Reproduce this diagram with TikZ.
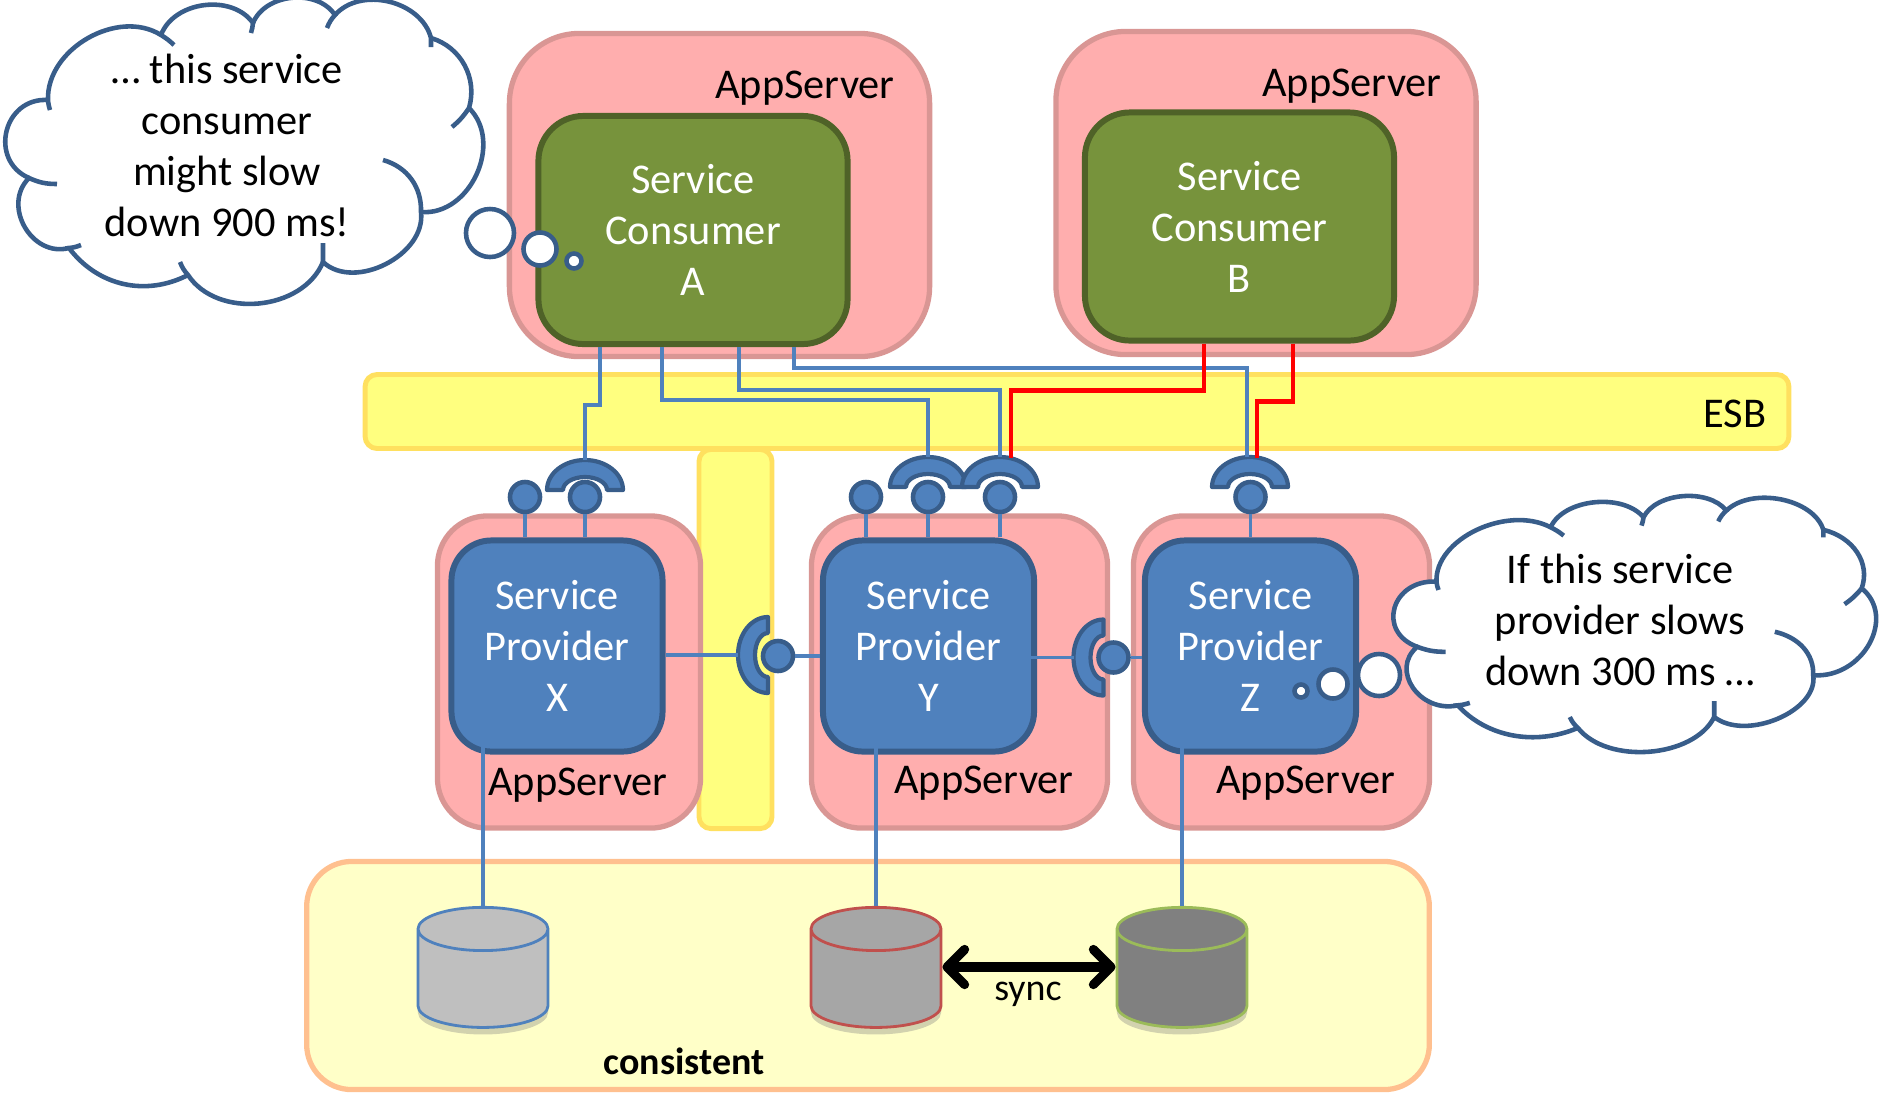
\documentclass[tikz,border=0pt]{standalone}
\usepackage{fontspec}
\setmainfont{Carlito}
\usepackage{xcolor}
\usepackage{tikz}
\usetikzlibrary{arrows.meta, positioning, shapes.geometric, shadows}

\definecolor{pinkfill}{HTML}{FFAEAE}
\definecolor{pinkline}{HTML}{D99694}
\definecolor{olivefill}{HTML}{77933C}
\definecolor{oliveline}{HTML}{4F6228}
\definecolor{bluefill}{HTML}{4F81BD}
\definecolor{blueline}{HTML}{385D8A}
\definecolor{busfill}{HTML}{FFFF7F}
\definecolor{busline}{HTML}{FFE05F}
\definecolor{storefill}{HTML}{FFFFC8}
\definecolor{storeline}{HTML}{FFC08F}
\definecolor{dbredline}{HTML}{C0504D}
\definecolor{dbgreenline}{HTML}{9BBB59}

\tikzset{
	label text/.style = {font=\fontsize{12.05}{14.5}\selectfont, align=center, inner sep=0pt},
	appserver/.style = {draw=pinkline, fill=pinkfill, line width=1.5pt, rounded corners=0.7cm},
	consumer/.style = {draw=oliveline, fill=olivefill, line width=1.7pt, rounded corners=0.45cm, label text, text=white, minimum width=3.09cm, minimum height=2.28cm},
	provider/.style = {draw=blueline, fill=bluefill, line width=1.7pt, rounded corners=0.4cm, label text, text=white, minimum width=2.11cm, minimum height=2.11cm},
	bus/.style = {draw=busline, fill=busfill, line width=1.4pt, rounded corners=0.12cm},
	socket/.style = {circle, draw=blueline, fill=bluefill, line width=1.3pt, inner sep=0pt, minimum size=0.3cm},
	ring/.style = {draw=blueline, fill=bluefill, line width=1.2pt, line join=round},
	wire/.style = {draw=bluefill, line width=1pt},
	redwire/.style = {draw=red, line width=1.3pt},
	store/.style = {cylinder, shape border rotate=90, aspect=0.72, line width=0.8pt, minimum width=1.3cm, minimum height=1.2cm, inner sep=0.3cm,
		drop shadow={shadow xshift=0pt, shadow yshift=-2pt, opacity=0.35}},
	cloudline/.style = {draw=blueline, line width=1.3pt},
	bubble/.style = {circle, draw=blueline, fill=white, line width=1.3pt, inner sep=0pt},
}

% half ring: x, y, rotation, name of its outer point
\newcommand{\socketring}[4]{
	\draw[ring, shift={(#1, #2)}, rotate=#3] (-38, 0) arc[start angle=180, end angle=0, x radius=38, y radius=30] -- (22, 0)
		arc[start angle=0, end angle=180, x radius=22, y radius=13] -- cycle (0, 30) coordinate (#4);
}

% outline of a thought cloud
\newcommand{\thoughtcloud}{
	\path[fill=white] (48, -100) to[bend left=62] (161, -35) to[bend left=62] (253, -23) to[bend left=62] (335, -15)
		to[bend left=62] (431, -38) to[bend left=45] (469, -108) to[bend left=70, looseness=1.1] (421, -212)
		to[bend left=70] (323, -262) to[bend left=62] (188, -275) to[bend left=40] (69, -248)
		to[bend left=75, looseness=1.23] (29, -178) to[bend left=80, looseness=1.42] (48, -100) -- cycle;
	\draw[cloudline] (50, -110) to[bend left=6] (48, -100) to[bend left=62] (161, -35) to[bend left=6] (174, -45);
	\draw[cloudline] (161, -35) to[bend left=62] (253, -23) to[bend left=5] (251, -33);
	\draw[cloudline] (253, -23) to[bend left=62] (335, -15) to[bend right=10] (327, -28);
	\draw[cloudline] (335, -15) to[bend left=62] (431, -38) -- (431, -47);
	\draw[cloudline] (431, -38) to[bend left=45] (469, -108) to[bend left=8] (452, -127);
	\draw[cloudline] (469, -108) to[bend left=70, looseness=1.1] (421, -212);
	\draw[cloudline] (383, -160) to[bend left=38] (421, -212) to[bend left=70] (323, -262) -- (323, -243);
	\draw[cloudline] (323, -262) to[bend left=62] (188, -275) to[bend left=10] (180, -262);
	\draw[cloudline] (188, -275) to[bend left=40] (69, -248) to[bend right=8] (81, -245);
	\draw[cloudline] (69, -248) to[bend left=75, looseness=1.23] (29, -178) to[bend right=12] (57, -184);
	\draw[cloudline] (29, -178) to[bend left=80, looseness=1.42] (48, -100);
}

\begin{document}
\begin{tikzpicture}[x=0.01cm, y=0.01cm]
	\useasboundingbox (0, 0) rectangle (1884, -1096);

	\node[draw=storeline, fill=storefill, line width=1.5pt, rounded corners=0.45cm, minimum width=11.22cm, minimum height=2.28cm] (storezone) at (868, -975.5) {};
	\node[bus, minimum width=14.23cm, minimum height=0.74cm] (esb) at (1077, -411.5) {};
	\node[bus, minimum width=0.73cm, minimum height=3.79cm] (busdown) at (735.5, -639) {};

	\node[appserver, minimum width=4.2cm, minimum height=3.23cm] (appA) at (719.5, -195) {};
	\node[appserver, minimum width=4.2cm, minimum height=3.23cm] (appB) at (1266, -193) {};
	\node[appserver, rounded corners=0.5cm, minimum width=2.63cm, minimum height=3.12cm] (appX) at (569, -672) {};
	\node[appserver, rounded corners=0.5cm, minimum width=2.96cm, minimum height=3.12cm] (appY) at (959.5, -672) {};
	\node[appserver, rounded corners=0.5cm, minimum width=2.96cm, minimum height=3.12cm] (appZ) at (1281.5, -672) {};

	\node[label text] (appAtext) at (805, -88) {AppServer};
	\node[label text] (appBtext) at (1352, -86) {AppServer};
	\node[label text] (appXtext) at (578, -785) {AppServer};
	\node[label text] (appYtext) at (984, -783) {AppServer};
	\node[label text] (appZtext) at (1306, -783) {AppServer};
	\node[label text] (esbtext) at (1735, -414) {ESB};

	\node[consumer] (conA) at (693, -230) {Service\\Consumer\\A};
	\node[consumer] (conB) at (1239.5, -226.5) {Service\\Consumer\\B};
	\node[provider] (provX) at (557, -646) {Service\\Provider\\X};
	\node[provider] (provY) at (928.5, -646) {Service\\Provider\\Y};
	\node[provider] (provZ) at (1250.5, -646) {Service\\Provider\\Z};

	\node[socket] (sockX1) at (525, -497) {};
	\node[socket] (sockX2) at (585, -497) {};
	\node[socket] (sockY1) at (866, -497) {};
	\node[socket] (sockY2) at (928, -497) {};
	\node[socket] (sockY3) at (1000, -497) {};
	\node[socket] (sockZ) at (1250.5, -497) {};
	\node[socket] (sockXY) at (778, -656) {};
	\node[socket] (sockYZ) at (1113.5, -657.5) {};

	\draw[wire] (sockX1) -- (sockX1 |- provX.north);
	\draw[wire] (sockX2) -- (sockX2 |- provX.north);
	\draw[wire] (sockY1) -- (sockY1 |- provY.north);
	\draw[wire] (sockY2) -- (sockY2 |- provY.north);
	\draw[wire] (sockY3) -- (sockY3 |- provY.north);
	\draw[wire] (sockZ) -- (sockZ |- provZ.north);

	\socketring{585}{-490}{0}{ringX}
	\socketring{928}{-487}{0}{ringY1}
	\socketring{1000}{-487}{0}{ringY2}
	\socketring{1250}{-487}{0}{ringZ}
	\socketring{768}{-655}{90}{ringXY}
	\socketring{1103.5}{-657.5}{90}{ringYZ}

	% consumer A to the providers
	\draw[wire] ([shift={(-93, 0)}]conA.south) -- ++(0, -58) -| (ringX);
	\draw[wire] ([shift={(-31, 0)}]conA.south) -- ++(0, -53) -| (ringY1);
	\draw[wire] ([shift={(46, 0)}]conA.south) -- ++(0, -43) -| (ringY2);
	\draw[wire] ([shift={(101, 0)}]conA.south) -- ++(0, -21) -| ([shift={(-3, 0)}]ringZ);

	% consumer B
	\draw[redwire] ([shift={(-35.5, 0)}]conB.south) -- ++(0, -47) -| ([shift={(11, -1)}]ringY2);
	\draw[redwire] ([shift={(53.5, 0)}]conB.south) -- ++(0, -58) -| ([shift={(7, -1)}]ringZ);

	\draw[wire] (provX.east |- ringXY) -- (ringXY);
	\draw[wire] (sockXY) -- (sockXY -| provY.west);
	\draw[wire] ([shift={(-24, 0)}]provY.east |- ringYZ) -- (ringYZ);
	\draw[wire] (sockYZ) -- (sockYZ -| provZ.west);

	\node[store, draw=bluefill, fill=gray!50!white] (dbX) at (483, -988) {};
	\node[store, draw=dbredline, fill=black!35] (dbY) at (876, -988) {};
	\node[store, draw=dbgreenline, fill=black!50] (dbZ) at (1182, -988) {};

	\draw[wire] ([shift={(0, 25)}]provX.south -| dbX.north) -- (dbX.north);
	\draw[wire] ([shift={(0, 25)}]provY.south -| dbY.north) -- (dbY.north);
	\draw[wire] ([shift={(0, 25)}]provZ.south -| dbZ.north) -- (dbZ.north);

	\draw[{Straight Barb[length=5pt, width=10pt, round]}-{Straight Barb[length=5pt, width=10pt, round]}, line width=2.6pt] ([shift={(0, 21)}]dbY.east) -- ([shift={(0, 21)}]dbZ.west);
	\node[label text, font=\fontsize{10.8}{13}\selectfont] (synctext) at (1028, -994) {sync};
	\node[label text, font=\fontsize{10.8}{13}\selectfont\bfseries] (storetext) at (684, -1061) {consistent};

	% thought clouds
	\thoughtcloud
	\node[label text] (cloudAtext) at (227, -145) {… this service\\consumer\\might slow\\down 900 ms!};
	\node[bubble, minimum size=0.48cm] (bubA1) at (490, -233) {};
	\node[bubble, minimum size=0.33cm] (bubA2) at (540, -249) {};
	\node[bubble, minimum size=0.15cm] (bubA3) at (574, -261) {};

	\begin{scope}[shift={(1388, -498)}, xscale=1.01, yscale=0.836]
		\thoughtcloud
	\end{scope}
	\node[label text] (cloudZtext) at (1620, -620) {If this service\\provider slows\\down 300 ms …};
	\node[bubble, minimum size=0.42cm] (bubZ1) at (1379, -675) {};
	\node[bubble, minimum size=0.29cm] (bubZ2) at (1333, -684) {};
	\node[bubble, minimum size=0.13cm] (bubZ3) at (1301, -691) {};
\end{tikzpicture}
\end{document}
